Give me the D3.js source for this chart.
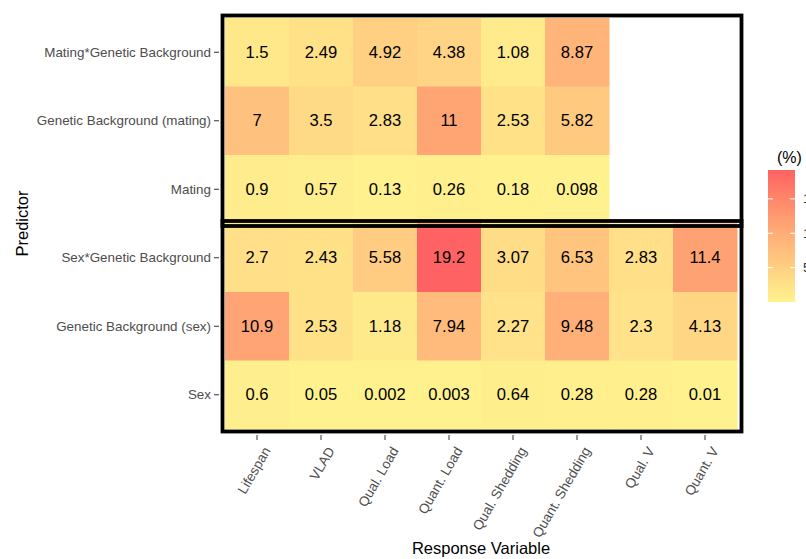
<!DOCTYPE html>
<html><head><meta charset="utf-8">
<script src="https://cdn.jsdelivr.net/npm/d3@7"></script>
<style>body{margin:0;background:#fff;} svg{display:block;font-family:"Liberation Sans",Arial,sans-serif;}</style>
</head><body><svg id="c" width="806" height="559"></svg>
<script>
const responses = ["Lifespan","VLAD","Qual. Load","Quant. Load","Qual. Shedding","Quant. Shedding","Qual. V","Quant. V"];
const predictors = ["Mating*Genetic Background","Genetic Background (mating)","Mating","Sex*Genetic Background","Genetic Background (sex)","Sex"];
const matingGB   = [1.5, 2.49, 4.92, 4.38, 1.08, 8.87, null, null];
const gbMating   = [7, 3.5, 2.83, 11, 2.53, 5.82, null, null];
const mating     = [0.9, 0.57, 0.13, 0.26, 0.18, 0.098, null, null];
const sexGB      = [2.7, 2.43, 5.58, 19.2, 3.07, 6.53, 2.83, 11.4];
const gbSex      = [10.9, 2.53, 1.18, 7.94, 2.27, 9.48, 2.3, 4.13];
const sex        = [0.6, 0.05, 0.002, 0.003, 0.64, 0.28, 0.28, 0.01];
const legendTicks = [5, 10, 15];
const groups = [[0,2],[3,5]]; // row index ranges boxed

const rows = [matingGB, gbMating, mating, sexGB, gbSex, sex];
const cells = [];
rows.forEach((vals,i)=>vals.forEach((v,j)=>{ if(v!=null) cells.push({p:predictors[i], r:responses[j], v}); }));

const svg = d3.select("#c");
const L=225, R=737, T=18, B=429;
const x = d3.scaleBand().domain(responses).range([L,R]);
const y = d3.scaleBand().domain(predictors).range([T,B]);
const vmax = d3.max(cells,d=>d.v), vmin = d3.min(cells,d=>d.v);
const color = d3.scaleLinear().domain([vmin,vmax]).range(["#FFF28E","#FF6262"]).interpolate(d3.interpolateLab);

svg.append("g").selectAll("rect").data(cells).join("rect")
  .attr("x",d=>x(d.r)).attr("y",d=>y(d.p))
  .attr("width",x.bandwidth()+0.5).attr("height",y.bandwidth()+0.5)
  .attr("fill",d=>color(d.v));

svg.append("g").selectAll("text").data(cells).join("text")
  .attr("x",d=>x(d.r)+x.bandwidth()/2).attr("y",d=>y(d.p)+y.bandwidth()/2)
  .attr("text-anchor","middle").attr("dominant-baseline","central")
  .attr("font-size",16.6).attr("fill","#000").text(d=>d.v);

// group boxes
const pad=2.5;
svg.append("g").selectAll("rect").data(groups).join("rect")
  .attr("x",L-pad).attr("width",R-L+2*pad+2)
  .attr("y",g=>y(predictors[g[0]])-pad)
  .attr("height",g=>y(predictors[g[1]])+y.bandwidth()-y(predictors[g[0]])+2*pad)
  .attr("fill","none").attr("stroke","#000").attr("stroke-width",3.8);

// axes
const yAx = svg.append("g").attr("transform",`translate(${L-6},0)`)
  .call(d3.axisLeft(y).tickSize(5).tickPadding(3));
yAx.select(".domain").remove();
yAx.selectAll("line").attr("stroke","#333");
yAx.selectAll("text").attr("font-size",13.4).attr("fill","#4D4D4D").attr("font-family","Liberation Sans, Arial, sans-serif");

const xAx = svg.append("g").attr("transform",`translate(0,${B+6})`)
  .call(d3.axisBottom(x).tickSize(5).tickPadding(3));
xAx.select(".domain").remove();
xAx.selectAll("line").attr("stroke","#333");
xAx.selectAll("text").attr("font-size",13.6).attr("fill","#4D4D4D")
  .attr("font-family","Liberation Sans, Arial, sans-serif")
  .attr("text-anchor","end").attr("dy","0.35em")
  .attr("transform","translate(3,9) rotate(-60)");

svg.append("text").attr("x",(L+R)/2).attr("y",554).attr("text-anchor","middle")
  .attr("font-size",16.5).attr("fill","#000").text("Response Variable");
svg.append("text").attr("transform",`translate(28,${(T+B)/2}) rotate(-90)`).attr("text-anchor","middle")
  .attr("font-size",16.5).attr("fill","#000").text("Predictor");

// legend
const lx=768, lw=27, ly0=170, ly1=302;
const ls = d3.scaleLinear().domain([vmin,vmax]).range([ly1,ly0]);
const defs = svg.append("defs");
const grad = defs.append("linearGradient").attr("id","lg").attr("x1",0).attr("x2",0).attr("y1",1).attr("y2",0);
d3.range(0,1.0001,0.1).forEach(t=>grad.append("stop").attr("offset",t).attr("stop-color",color(vmin+t*(vmax-vmin))));
svg.append("rect").attr("x",lx).attr("y",ly0).attr("width",lw).attr("height",ly1-ly0).attr("fill","url(#lg)");
const lg = svg.append("g");
legendTicks.forEach(v=>{
  lg.append("line").attr("x1",lx).attr("x2",lx+5).attr("y1",ls(v)).attr("y2",ls(v)).attr("stroke","#fff").attr("stroke-width",1);
  lg.append("line").attr("x1",lx+lw-5).attr("x2",lx+lw).attr("y1",ls(v)).attr("y2",ls(v)).attr("stroke","#fff").attr("stroke-width",1);
  lg.append("text").attr("x",lx+lw+8).attr("y",ls(v)).attr("dominant-baseline","central")
    .attr("font-size",13.4).attr("fill","#333").text(v);
});
svg.append("text").attr("x",777).attr("y",163).attr("font-size",16).attr("fill","#000").text("(%)");
</script></body></html>
